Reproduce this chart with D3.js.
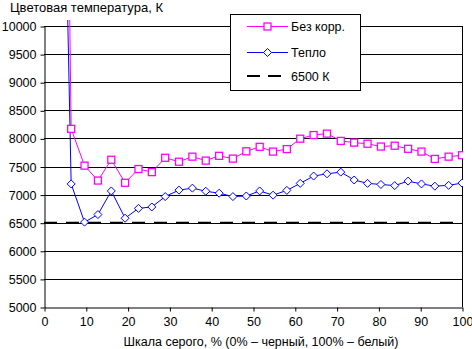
<!DOCTYPE html>
<html>
<head>
<meta charset="utf-8">
<script src="https://cdn.jsdelivr.net/npm/d3@7"></script>
<style>
  html, body { margin: 0; padding: 0; background: #fff; }
  svg { display: block; font-family: "Liberation Sans", Arial, sans-serif; }
</style>
</head>
<body>
<svg id="chart" width="472" height="349"></svg>
<script>
// Gray levels, % (32 levels; first point off-scale)
const grayLevels = [3.2, 6.5, 9.7, 12.9, 16.1, 19.4, 22.6, 25.8, 29.0, 32.3, 35.5, 38.7, 41.9, 45.2, 48.4, 51.6,
  54.8, 58.1, 61.3, 64.5, 67.7, 71.0, 74.2, 77.4, 80.6, 83.9, 87.1, 90.3, 93.5, 96.8, 100];
const noCorrection = [27000, 8170, 7515, 7250, 7620, 7210, 7455, 7400, 7655, 7585, 7675, 7605, 7690, 7640, 7770, 7850,
  7765, 7810, 7995, 8060, 8085, 7955, 7925, 7905, 7855, 7870, 7815, 7765, 7635, 7675, 7700];
const warm = [19000, 7190, 6510, 6645, 7065, 6580, 6755, 6780, 6965, 7080, 7115, 7060, 7025, 6965, 6975, 7065,
  6990, 7075, 7200, 7330, 7370, 7400, 7260, 7200, 7180, 7160, 7240, 7190, 7150, 7165, 7205];
const reference = 6500;
const yTicks = [5000, 5500, 6000, 6500, 7000, 7500, 8000, 8500, 9000, 9500, 10000];
const xTicks = [0, 10, 20, 30, 40, 50, 60, 70, 80, 90, 100];
const seriesNames = ["Без корр.", "Тепло", "6500 К"];
const yTitle = "Цветовая температура, К";
const xTitle = "Шкала серого, % (0% – черный, 100% – белый)";

const svg = d3.select("#chart");
const m = { left: 44, right: 462, top: 26, bottom: 307 };
const x = d3.scaleLinear().domain([0, 100]).range([m.left, m.right]);
const y = d3.scaleLinear().domain([5000, 10000]).range([m.bottom, m.top]);
const font = 12.5;

// gridlines
svg.append("g").selectAll("line").data(yTicks.filter(d => d > 5000)).join("line")
  .attr("x1", m.left).attr("x2", m.right)
  .attr("y1", d => Math.round(y(d)) + 0.5).attr("y2", d => Math.round(y(d)) + 0.5)
  .attr("stroke", "#000").attr("stroke-width", 1);
// right border
svg.append("line").attr("x1", m.right + 0.5).attr("x2", m.right + 0.5)
  .attr("y1", m.top).attr("y2", m.bottom).attr("stroke", "#000");

// axes
const yAxis = svg.append("g").attr("transform", `translate(${m.left + 0.5},0.5)`)
  .call(d3.axisLeft(y).tickValues(yTicks).tickSize(4).tickSizeOuter(0).tickPadding(4).tickFormat(d3.format("d")));
const xAxis = svg.append("g").attr("transform", `translate(0.5,${m.bottom + 0.5})`)
  .call(d3.axisBottom(x).tickValues(xTicks).tickSize(4).tickSizeOuter(0).tickPadding(6).tickFormat(d3.format("d")));
[yAxis, xAxis].forEach(a => {
  a.selectAll("path.domain").attr("stroke", "#000");
  a.selectAll("line").attr("stroke", "#000");
  a.selectAll("text").attr("fill", "#000").attr("font-size", font).attr("font-family", "Liberation Sans, Arial, sans-serif");
});

// clip
svg.append("defs").append("clipPath").attr("id", "clip")
  .append("rect").attr("x", m.left).attr("y", 20).attr("width", m.right - m.left + 1).attr("height", m.bottom - 20);

const plot = svg.append("g").attr("clip-path", "url(#clip)");

// reference line
plot.append("line").attr("x1", x(0)).attr("x2", x(100))
  .attr("y1", y(reference)).attr("y2", y(reference))
  .attr("stroke", "#000").attr("stroke-width", 2).attr("stroke-dasharray", "13,9");

const line = d3.line().x(d => x(d[0])).y(d => y(d[1]));
const pinkData = grayLevels.map((g, i) => [g, noCorrection[i]]);
const blueData = grayLevels.map((g, i) => [g, warm[i]]);

plot.append("path").datum(pinkData).attr("d", line).attr("fill", "none").attr("stroke", "#FF00FF").attr("stroke-width", 1);
plot.append("path").datum(blueData).attr("d", line).attr("fill", "none").attr("stroke", "#0000FF").attr("stroke-width", 1);

const sq = 7;
plot.append("g").selectAll("rect").data(pinkData.filter(d => d[1] <= 10000)).join("rect")
  .attr("x", d => x(d[0]) - sq / 2).attr("y", d => y(d[1]) - sq / 2)
  .attr("width", sq).attr("height", sq)
  .attr("fill", "#fff").attr("stroke", "#FF00FF").attr("stroke-width", 1.3);
plot.append("g").selectAll("path").data(blueData.filter(d => d[1] <= 10000)).join("path")
  .attr("transform", d => `translate(${x(d[0])},${y(d[1])})`)
  .attr("d", "M0,-4L4,0L0,4L-4,0Z")
  .attr("fill", "#fff").attr("stroke", "#0000FF").attr("stroke-width", 1);

// titles
svg.append("text").attr("x", 10).attr("y", 12).attr("font-size", 13).text(yTitle);
svg.append("text").attr("x", (m.left + m.right) / 2 + 8).attr("y", 346).attr("text-anchor", "middle")
  .attr("font-size", font).text(xTitle);

// legend
const lg = svg.append("g");
lg.append("rect").attr("x", 230.5).attr("y", 14.5).attr("width", 130).attr("height", 76)
  .attr("fill", "#fff").attr("stroke", "#000");
const ly = [26, 52, 76];
lg.append("line").attr("x1", 247).attr("x2", 288).attr("y1", ly[0] + 0.5).attr("y2", ly[0] + 0.5).attr("stroke", "#FF00FF");
lg.append("rect").attr("x", 267.5 - sq / 2).attr("y", ly[0] + 0.5 - sq / 2).attr("width", sq).attr("height", sq)
  .attr("fill", "#fff").attr("stroke", "#FF00FF").attr("stroke-width", 1.3);
lg.append("line").attr("x1", 247).attr("x2", 288).attr("y1", ly[1] + 0.5).attr("y2", ly[1] + 0.5).attr("stroke", "#0000FF");
lg.append("path").attr("transform", `translate(267.5,${ly[1] + 0.5})`).attr("d", "M0,-4L4,0L0,4L-4,0Z")
  .attr("fill", "#fff").attr("stroke", "#0000FF");
lg.append("line").attr("x1", 247).attr("x2", 282).attr("y1", ly[2]).attr("y2", ly[2])
  .attr("stroke", "#000").attr("stroke-width", 2).attr("stroke-dasharray", "13,8");
seriesNames.forEach((n, i) => {
  lg.append("text").attr("x", 291).attr("y", ly[i] + 4.5).attr("font-size", font).text(n);
});
</script>
</body>
</html>
